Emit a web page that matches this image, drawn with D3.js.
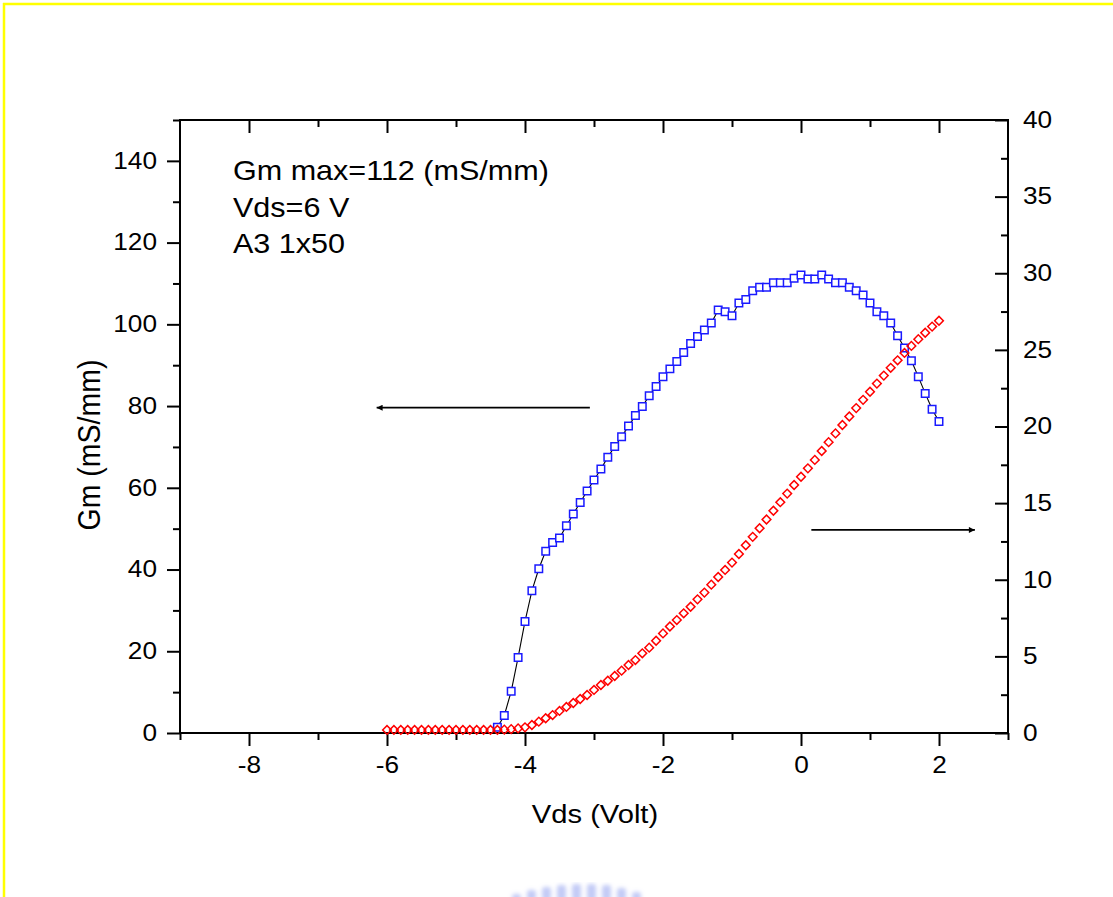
<!DOCTYPE html>
<html>
<head>
<meta charset="utf-8">
<script src="https://cdn.jsdelivr.net/npm/d3@7"></script>
<style>
  html, body { margin: 0; padding: 0; background: #fff; }
  svg { display: block; }
  text { font-family: "Liberation Sans", Arial, sans-serif; fill: #000; }
</style>
</head>
<body>
<svg id="chart" width="1113" height="897"></svg>
<script>
// ---------------- data ----------------
const gmVgs = [-4.4,-4.3,-4.2,-4.1,-4.0,-3.9,-3.8,-3.7,-3.6,-3.5,-3.4,-3.3,-3.2,-3.1,-3.0,
  -2.9,-2.8,-2.7,-2.6,-2.5,-2.4,-2.3,-2.2,-2.1,-2.0,-1.9,-1.8,-1.7,-1.6,-1.5,-1.4,-1.3,-1.2,-1.1,-1.0,
  -0.9,-0.8,-0.7,-0.6,-0.5,-0.4,-0.3,-0.2,-0.1,0.0,0.1,0.2,0.3,0.4,0.5,0.6,0.7,0.8,0.9,1.0,
  1.1,1.2,1.3,1.4,1.5,1.6,1.7,1.8,1.9,2.0];
const gmValues = [1.4,4.3,10.2,18.5,27.3,34.8,40.2,44.5,46.6,47.7,50.7,53.6,56.4,59.2,61.9,
  64.6,67.5,70.1,72.5,75.1,77.7,79.9,82.5,84.8,87.2,89.1,90.9,93.1,95.3,97.0,98.6,100.3,103.5,103.1,102.1,
  105.2,106.1,108.2,109.1,109.1,110.2,110.2,110.2,111.3,112.1,111.1,111.1,112.1,111.1,110.2,110.2,109.1,108.2,107.2,105.2,
  103.1,102.1,100.3,97.2,94.2,91.1,87.2,83.1,79.2,76.2];

const idsVgs = [-6.0,-5.9,-5.8,-5.7,-5.6,-5.5,-5.4,-5.3,-5.2,-5.1,-5.0,-4.9,-4.8,-4.7,-4.6,-4.5,-4.4,
  -4.3,-4.2,-4.1,-4.0,-3.9,-3.8,-3.7,-3.6,-3.5,-3.4,-3.3,-3.2,-3.1,-3.0,
  -2.9,-2.8,-2.7,-2.6,-2.5,-2.4,-2.3,-2.2,-2.1,-2.0,-1.9,-1.8,-1.7,-1.6,-1.5,-1.4,-1.3,-1.2,-1.1,-1.0,
  -0.9,-0.8,-0.7,-0.6,-0.5,-0.4,-0.3,-0.2,-0.1,0.0,0.1,0.2,0.3,0.4,0.5,0.6,0.7,0.8,0.9,1.0,
  1.1,1.2,1.3,1.4,1.5,1.6,1.7,1.8,1.9,2.0];
const idsValues = [0.2,0.2,0.2,0.2,0.2,0.2,0.2,0.2,0.2,0.2,0.2,0.2,0.2,0.2,0.2,0.2,0.2,
  0.22,0.25,0.3,0.37,0.52,0.74,0.96,1.17,1.44,1.70,1.96,2.22,2.48,2.81,
  3.13,3.41,3.72,4.07,4.44,4.76,5.20,5.57,6.02,6.50,6.95,7.37,7.81,8.24,8.72,9.16,9.68,10.18,10.64,11.12,
  11.68,12.25,12.80,13.36,13.93,14.50,15.06,15.62,16.18,16.72,17.27,17.82,18.40,18.98,19.55,20.10,20.65,21.20,21.74,22.27,
  22.80,23.32,23.83,24.32,24.80,25.26,25.70,26.12,26.52,26.90];

const xMajorTicks = [-8,-6,-4,-2,0,2];
const xMinorTicks = [-9,-7,-5,-3,-1,1,3];
const yLeftMajorTicks = [0,20,40,60,80,100,120,140];
const yLeftMinorTicks = [10,30,50,70,90,110,130,150];
const yRightMajorTicks = [0,5,10,15,20,25,30,35,40];
const yRightMinorTicks = [2.5,7.5,12.5,17.5,22.5,27.5,32.5,37.5];

const notes = ["Gm max=112 (mS/mm)", "Vds=6 V", "A3 1x50"];
const xTitle = "Vds (Volt)";
const yTitle = "Gm (mS/mm)";

// arrows: left arrow in left-axis units, right arrow in right-axis units
const leftArrow = {x1: -3.06, x2: -6.15, y: 79.6};
const rightArrow = {x1: 0.15, x2: 2.52, y: 13.25};

// ---------------- layout ----------------
const svg = d3.select("#chart");
const L = 180, R = 1008, T = 120, B = 733;
const SX = 1.14; // horizontal stretch of the original's text

const x = d3.scaleLinear().domain([-9, 3]).range([L, R]);
const yL = d3.scaleLinear().domain([0, 150]).range([B, T]);
const yR = d3.scaleLinear().domain([0, 40]).range([B, T]);

const fmt = d => String(d); // plain hyphen minus, as in the original

// yellow page border
svg.append("line").attr("x1", 3).attr("x2", 1113).attr("y1", 4).attr("y2", 4)
  .attr("stroke", "#ffff00").attr("stroke-width", 2.5);
svg.append("line").attr("x1", 4).attr("x2", 4).attr("y1", 3).attr("y2", 897)
  .attr("stroke", "#ffff00").attr("stroke-width", 2.5);

function styleAxis(g) {
  g.select(".domain").remove();
  g.selectAll(".tick line").attr("stroke", "#000").attr("stroke-width", 2);
  g.selectAll(".tick text").attr("font-size", 23).attr("fill", "#000")
    .attr("font-family", '"Liberation Sans", Arial, sans-serif');
}
function stretchText(g) {
  g.selectAll(".tick text").each(function() {
    const t = d3.select(this);
    const xv = +t.attr("x") || 0;
    t.attr("x", xv / SX).attr("transform", `scale(${SX},1)`);
  });
}

// bottom axis
svg.append("g").attr("transform", `translate(0,${B})`)
  .call(d3.axisBottom(x).tickValues(xMajorTicks).tickSizeInner(13).tickSizeOuter(0).tickPadding(11).tickFormat(fmt))
  .call(styleAxis).call(stretchText);
svg.append("g").attr("transform", `translate(0,${B})`)
  .call(d3.axisBottom(x).tickValues(xMinorTicks).tickSizeInner(7).tickSizeOuter(0).tickFormat(""))
  .call(styleAxis);
// top axis (inward ticks)
svg.append("g").attr("transform", `translate(0,${T})`)
  .call(d3.axisTop(x).tickValues(xMajorTicks).tickSizeInner(-13).tickSizeOuter(0).tickFormat(""))
  .call(styleAxis);
svg.append("g").attr("transform", `translate(0,${T})`)
  .call(d3.axisTop(x).tickValues(xMinorTicks.filter(d => d > -9 && d < 3)).tickSizeInner(-7).tickSizeOuter(0).tickFormat(""))
  .call(styleAxis);
// left axis
svg.append("g").attr("transform", `translate(${L},0)`)
  .call(d3.axisLeft(yL).tickValues(yLeftMajorTicks).tickSizeInner(13).tickSizeOuter(0).tickPadding(10).tickFormat(fmt))
  .call(styleAxis).call(stretchText);
svg.append("g").attr("transform", `translate(${L},0)`)
  .call(d3.axisLeft(yL).tickValues(yLeftMinorTicks).tickSizeInner(7).tickSizeOuter(0).tickFormat(""))
  .call(styleAxis);
// right axis (inward ticks, labels outside)
svg.append("g").attr("transform", `translate(${R},0)`)
  .call(d3.axisRight(yR).tickValues(yRightMajorTicks).tickSizeInner(-13).tickSizeOuter(0).tickPadding(15).tickFormat(fmt))
  .call(styleAxis).call(stretchText);
svg.append("g").attr("transform", `translate(${R},0)`)
  .call(d3.axisRight(yR).tickValues(yRightMinorTicks).tickSizeInner(-7).tickSizeOuter(0).tickFormat(""))
  .call(styleAxis);

// frame
svg.append("rect").attr("x", L).attr("y", T).attr("width", R - L).attr("height", B - T)
  .attr("fill", "none").attr("stroke", "#000").attr("stroke-width", 2);

// ---------------- series ----------------
const gmData = gmVgs.map((v, i) => ({x: v, y: gmValues[i]}));
const idsData = idsVgs.map((v, i) => ({x: v, y: idsValues[i]}));

svg.append("path").datum(gmData)
  .attr("fill", "none").attr("stroke", "#000").attr("stroke-width", 1.1)
  .attr("d", d3.line().x(d => x(d.x)).y(d => yL(d.y)));

const sq = d3.symbol().type(d3.symbolSquare).size(56);
svg.append("g").selectAll("path").data(gmData).join("path")
  .attr("d", sq)
  .attr("transform", d => `translate(${x(d.x)},${yL(d.y)})`)
  .attr("fill", "#fff").attr("stroke", "#1a1aff").attr("stroke-width", 1.5);

const dm = d3.symbol().type(d3.symbolSquare).size(38);
svg.append("g").selectAll("path").data(idsData).join("path")
  .attr("d", dm)
  .attr("transform", d => `translate(${x(d.x)},${yR(d.y)}) rotate(45)`)
  .attr("fill", "none").attr("stroke", "#ff0000").attr("stroke-width", 1.5);

// ---------------- arrows ----------------
const defs = svg.append("defs");
defs.append("marker").attr("id", "ah").attr("viewBox", "0 0 10 10")
  .attr("refX", 10).attr("refY", 5).attr("markerWidth", 11).attr("markerHeight", 6)
  .attr("markerUnits", "userSpaceOnUse").attr("orient", "auto")
  .append("path").attr("d", "M0,0 L10,5 L0,10 Z").attr("fill", "#000");

svg.append("line")
  .attr("x1", x(leftArrow.x1)).attr("x2", x(leftArrow.x2))
  .attr("y1", yL(leftArrow.y)).attr("y2", yL(leftArrow.y))
  .attr("stroke", "#000").attr("stroke-width", 1.7).attr("marker-end", "url(#ah)");
svg.append("line")
  .attr("x1", x(rightArrow.x1)).attr("x2", x(rightArrow.x2))
  .attr("y1", yR(rightArrow.y)).attr("y2", yR(rightArrow.y))
  .attr("stroke", "#000").attr("stroke-width", 1.7).attr("marker-end", "url(#ah)");

// ---------------- texts ----------------
const noteY = [180, 217, 253];
notes.forEach((s, i) => {
  svg.append("text").attr("x", 0).attr("y", 0)
    .attr("transform", `translate(233,${noteY[i]}) scale(${SX},1)`)
    .attr("font-size", 26.8).text(s);
});

svg.append("text")
  .attr("transform", `translate(${(L + R) / 2 + 1},823) scale(1.1,1)`)
  .attr("text-anchor", "middle").attr("font-size", 26.5).text(xTitle);

svg.append("text")
  .attr("transform", `translate(100,445) rotate(-90) scale(1,1.1)`)
  .attr("text-anchor", "middle").attr("font-size", 28.5).text(yTitle);

// ---------------- faint watermark at page bottom ----------------
const blur = defs.append("filter").attr("id", "blur");
blur.append("feGaussianBlur").attr("stdDeviation", 2);
const wmBars = [[517, 894], [532, 890], [547, 887], [562, 885], [577, 884], [592, 884], [607, 885], [622, 888], [637, 892]];
svg.append("g").attr("filter", "url(#blur)").selectAll("rect").data(wmBars).join("rect")
  .attr("x", d => d[0] - 5).attr("y", d => d[1]).attr("width", 9).attr("height", d => 897 - d[1] + 4)
  .attr("rx", 3).attr("fill", "#9aa6f0").attr("opacity", 0.6);
</script>
</body>
</html>
